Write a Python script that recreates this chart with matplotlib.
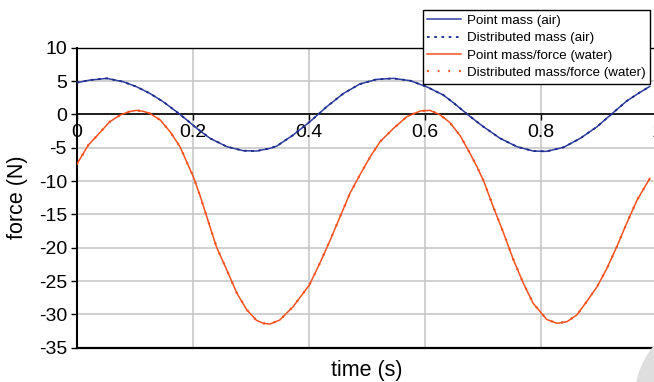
import matplotlib
matplotlib.use("Agg")
import matplotlib.pyplot as plt
from matplotlib.patches import Circle

# time (s) / force (N)
t_air = [0.000, 0.023, 0.052, 0.080, 0.103, 0.126, 0.149, 0.172, 0.190, 0.207,
         0.230, 0.259, 0.287, 0.310, 0.333, 0.345, 0.373, 0.402, 0.431, 0.460,
         0.488, 0.517, 0.546, 0.575, 0.603, 0.632, 0.650, 0.675, 0.701, 0.730,
         0.759, 0.787, 0.810, 0.839, 0.868, 0.897, 0.922, 0.948, 0.971, 0.988]
f_air_point = [4.75, 5.15, 5.4, 4.9, 4.15, 3.15, 1.9, 0.4, -0.85, -2.1,
               -3.6, -4.85, -5.45, -5.5, -5.1, -4.75, -3.1, -1.1, 1.15, 3.15,
               4.55, 5.25, 5.4, 5.05, 4.15, 2.9, 1.7, -0.1, -1.85, -3.6,
               -4.85, -5.5, -5.55, -4.95, -3.6, -1.85, 0.05, 2.0, 3.3, 4.2]
# distributed model sits on top of the point-mass curve at this scale
f_air_dist = [4.75, 5.15, 5.4, 4.9, 4.15, 3.15, 1.9, 0.4, -0.85, -2.1,
              -3.6, -4.85, -5.45, -5.5, -5.1, -4.75, -3.1, -1.1, 1.15, 3.15,
              4.55, 5.25, 5.4, 5.05, 4.15, 2.9, 1.7, -0.1, -1.85, -3.6,
              -4.85, -5.5, -5.55, -4.95, -3.6, -1.85, 0.05, 2.0, 3.3, 4.2]

t_water = [0.000, 0.020, 0.034, 0.057, 0.075, 0.090, 0.103, 0.115, 0.126, 0.144,
           0.161, 0.178, 0.201, 0.213, 0.224, 0.241, 0.259, 0.276, 0.293, 0.310,
           0.322, 0.333, 0.350, 0.373, 0.401, 0.419, 0.437, 0.454, 0.471, 0.488,
           0.506, 0.523, 0.546, 0.569, 0.592, 0.609, 0.626, 0.643, 0.661, 0.678,
           0.690, 0.702, 0.718, 0.736, 0.753, 0.770, 0.787, 0.799, 0.810, 0.828,
           0.845, 0.862, 0.879, 0.897, 0.914, 0.931, 0.948, 0.966, 0.988]
f_water_point = [-7.5, -4.6, -3.3, -1.1, -0.1, 0.4, 0.6, 0.45, 0.15, -0.85,
                 -2.6, -4.85, -9.35, -12.3, -15.3, -19.9, -23.4, -26.8, -29.3, -30.9,
                 -31.35, -31.45, -30.85, -28.85, -25.6, -22.35, -18.85, -15.35, -11.85, -9.1,
                 -6.35, -4.1, -2.1, -0.35, 0.5, 0.6, -0.05, -1.2, -3.2, -5.85,
                 -7.85, -10.1, -13.85, -17.85, -21.85, -25.35, -28.35, -29.6, -30.75, -31.35,
                 -31.1, -30.1, -28.1, -25.85, -23.1, -19.85, -16.35, -12.85, -9.6]
f_water_dist = [-7.5, -4.6, -3.3, -1.1, -0.1, 0.4, 0.6, 0.45, 0.15, -0.85,
                -2.6, -4.85, -9.35, -12.3, -15.3, -19.9, -23.4, -26.8, -29.3, -30.9,
                -31.35, -31.45, -30.85, -28.85, -25.6, -22.35, -18.85, -15.35, -11.85, -9.1,
                -6.35, -4.1, -2.1, -0.35, 0.5, 0.6, -0.05, -1.2, -3.2, -5.85,
                -7.85, -10.1, -13.85, -17.85, -21.85, -25.35, -28.35, -29.6, -30.75, -31.35,
                -31.1, -30.1, -28.1, -25.85, -23.1, -19.85, -16.35, -12.85, -9.6]

x_ticks = [0, 0.2, 0.4, 0.6, 0.8, 1.0]
x_ticklabels = ["0", "0.2", "0.4", "0.6", "0.8", "1"]
y_ticks = [10, 5, 0, -5, -10, -15, -20, -25, -30, -35]

plt.rcParams["font.family"] = ["Liberation Sans", "DejaVu Sans"]
plt.rcParams["axes.unicode_minus"] = False

BLUE = "#2f3f9e"; BLUE_D = "#1c2a8c"; ORANGE = "#f4511e"

fig = plt.figure(figsize=(6.54, 3.82), dpi=100)
# right edge of the plot area runs just past the picture edge, as in the source
ax = fig.add_axes([0.1173, 0.0898, 0.887, 0.7853])

ax.plot(t_air, f_air_point, color=BLUE, lw=1.1, label="Point mass (air)", zorder=3)
ax.plot(t_air, f_air_dist, color=BLUE_D, lw=1.3, ls=(0, (1.5, 2.5)), label="Distributed mass (air)", zorder=4)
ax.plot(t_water, f_water_point, color=ORANGE, lw=1.1, label="Point mass/force (water)", zorder=3)
ax.plot(t_water, f_water_dist, color=ORANGE, lw=1.6, ls=(0, (0.8, 4)), label="Distributed mass/force (water)", zorder=4)

# x axis crosses at y=0 (set before ticks: set_position resets tick props)
ax.spines["bottom"].set_position(("data", 0))
ax.spines["bottom"].set_linewidth(1.2)
ax.spines["left"].set_linewidth(1.5)
ax.spines["top"].set_linewidth(1.0)
ax.spines["right"].set_visible(False)

ax.set_xlim(0, 1.0); ax.set_ylim(-35, 10)
ax.set_xticks(x_ticks, x_ticklabels)
ax.set_yticks(y_ticks, [str(v) for v in y_ticks])
ax.tick_params(axis="x", direction="out", length=4, width=1, pad=3, labelsize=14)
ax.tick_params(axis="y", direction="out", length=4, width=1, pad=3, labelsize=14)
ax.grid(True, color="#c8c8c8", lw=1.2, zorder=0)
ax.set_axisbelow(True)
ax.axhline(-35, color="black", lw=1.6, clip_on=False, zorder=5)

ax.set_ylabel("force (N)", fontsize=15.5, labelpad=8)
fig.text(0.5607, 0.031, "time (s)", ha="center", va="center", fontsize=15.5)

leg = fig.legend(loc="upper right", bbox_to_anchor=(0.994, 0.974), fontsize=9.6,
                 frameon=True, fancybox=False, edgecolor="black", framealpha=1,
                 handlelength=2.5, labelspacing=0.38, borderpad=0.35, handletextpad=0.45,
                 borderaxespad=0)
leg.get_frame().set_linewidth(1.0)

# faint watermark bottom-right
fig.patches.append(Circle((7.20, -0.18), 0.85, transform=fig.dpi_scale_trans,
                          color="#dedede", zorder=0))

fig.savefig("out.png", dpi=100)
